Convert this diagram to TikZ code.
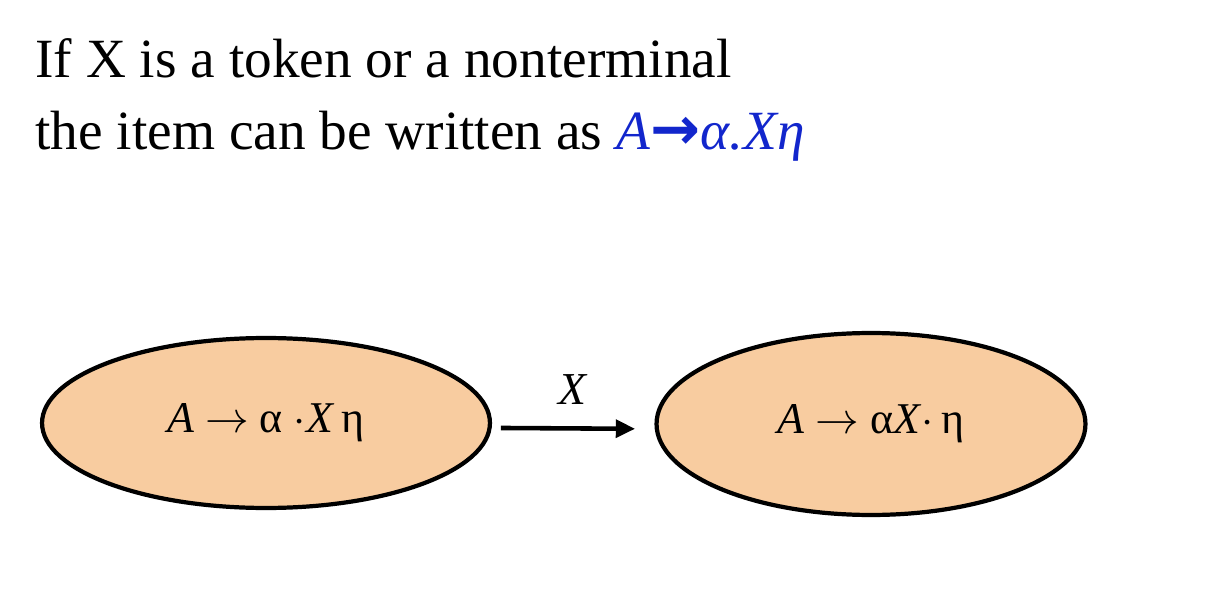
\documentclass[tikz,border=0pt]{standalone}
\usepackage{fontspec}
\setmainfont{Liberation Serif}
\newfontfamily\arrowfont{DejaVu Sans}
\usetikzlibrary{shapes.geometric,arrows.meta}
\definecolor{peach}{RGB}{248,204,160}
\definecolor{itemblue}{RGB}{18,38,204}
\tikzset{
	itemstate/.style={ellipse, draw=black, line width=2.4pt, fill=peach, inner sep=0pt, font=\fontsize{25}{29}\selectfont},
	headline/.style={anchor=base west, inner sep=0pt, font=\fontsize{31.5}{37}\selectfont},
	goto/.style={line width=2.6pt, -{Triangle[length=11pt,width=10pt]}}
}

\begin{document}
\begin{tikzpicture}[x=0.02cm, y=-0.02cm]
			%%%%% START %%%%%
			\useasboundingbox (0, 0) rectangle (1230, 604);
			
			\node[headline] (line1) at (35, 78) {If X is a token or a nonterminal};
			\node[headline] (line2) at (35, 150) {the item can be written as \textcolor{itemblue}{\textit{A}{\arrowfont\bfseries\fontsize{34}{38}\selectfont →}\textit{α.Xη}}};
			
			\node[itemstate, minimum width=8.96cm, minimum height=3.4cm] (before) at (266, 423) {\textit{A} $\rightarrow$ α $\cdot$\textit{X}\,η};
			\node[itemstate, minimum width=8.58cm, minimum height=3.64cm] (after) at (871, 424) {\textit{A} $\rightarrow$ α\textit{X}$\cdot$\,η};
			
			\draw[goto, shorten <=5pt, shorten >=11pt] ([yshift=-2.8pt]before.east) -- ([yshift=-2.8pt]after.west) node[midway, above=9pt, font=\fontsize{26}{30}\selectfont] (lbl) {\textit{X}};
			%%%%% END %%%%%
\end{tikzpicture}
\end{document}
